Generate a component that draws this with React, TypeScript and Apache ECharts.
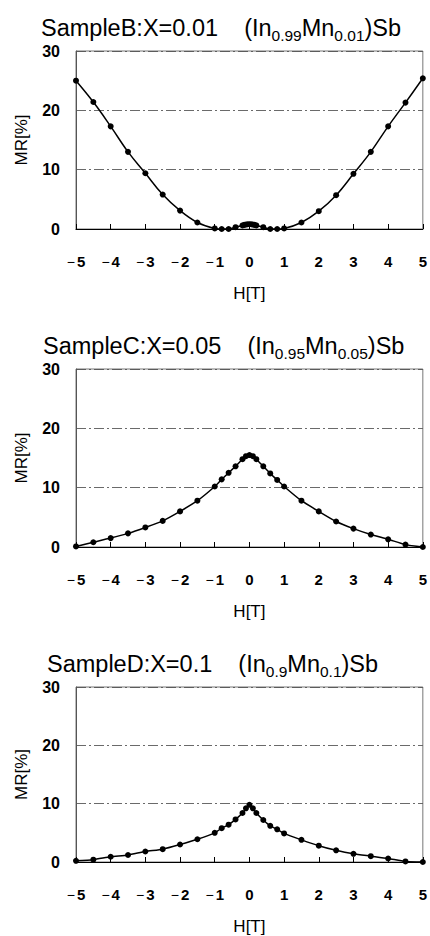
import React, { useEffect, useRef } from "react";
import * as echarts from "echarts";

const hB = [-5, -4.5, -4, -3.5, -3, -2.5, -2, -1.5, -1, -0.8, -0.6, -0.4, -0.2, -0.15, -0.1, -0.05, 0, 0.05, 0.1, 0.15, 0.2, 0.4, 0.6, 0.8, 1, 1.5, 2, 2.5, 3, 3.5, 4, 4.5, 5];
const mrB = [25.0, 21.4, 17.3, 13.0, 9.4, 5.8, 3.1, 1.1, 0.1, 0.0, 0.0, 0.3, 0.6, 0.7, 0.75, 0.8, 0.8, 0.8, 0.75, 0.7, 0.6, 0.3, 0.0, 0.0, 0.1, 1.1, 3.0, 5.7, 9.3, 13.0, 17.3, 21.3, 25.4];

const hC = [-5, -4.5, -4, -3.5, -3, -2.5, -2, -1.5, -1, -0.8, -0.6, -0.4, -0.2, -0.1, 0, 0.1, 0.2, 0.4, 0.6, 0.8, 1, 1.5, 2, 2.5, 3, 3.5, 4, 4.5, 5];
const mrC = [0.1, 0.8, 1.5, 2.3, 3.3, 4.4, 6.0, 7.8, 10.2, 11.4, 12.5, 13.6, 14.8, 15.3, 15.5, 15.3, 14.8, 13.6, 12.4, 11.3, 10.2, 7.8, 6.0, 4.3, 3.1, 2.1, 1.3, 0.4, 0.0];

const hD = [-5, -4.5, -4, -3.5, -3, -2.5, -2, -1.5, -1, -0.8, -0.6, -0.4, -0.2, -0.1, 0, 0.1, 0.2, 0.4, 0.6, 0.8, 1, 1.5, 2, 2.5, 3, 3.5, 4, 4.5, 5];
const mrD = [0.2, 0.4, 0.9, 1.2, 1.8, 2.2, 3.0, 3.9, 5.0, 5.8, 6.4, 7.3, 8.4, 9.2, 9.8, 9.2, 8.4, 7.2, 6.2, 5.6, 4.9, 3.8, 2.8, 2.0, 1.4, 1.0, 0.6, 0.1, 0.0];

const titleParts = [
  { name: "SampleB:X=0.01", a: "0.99", b: "0.01" },
  { name: "SampleC:X=0.05", a: "0.95", b: "0.05" },
  { name: "SampleD:X=0.1", a: "0.9", b: "0.1" },
];
const titleLefts = [41, 43, 47];
const yTicks = [0, 10, 20, 30];
const xName = "H[T]";
const yName = "MR[%]";

const panels = [
  { h: hB, mr: mrB, smooth: 0.4 },
  { h: hC, mr: mrC, smooth: 0.2 },
  { h: hD, mr: mrD, smooth: 0.2 },
];

const FONT = "Liberation Sans, Arial, sans-serif";
const TICKFONT = "Liberation Sans Narrow, Liberation Sans, Arial, sans-serif";

export default function App() {
  const ref = useRef<HTMLDivElement>(null);
  useEffect(() => {
    if (!ref.current) return;
    const chart = echarts.init(ref.current, undefined, { renderer: "svg" });
    const tops = [51, 369, 687];
    const titles = titleParts.map((t, i) => ({
      left: titleLefts[i],
      top: tops[i] - 38,
      padding: 0,
      text: `{m|${t.name}    (In}{s|${t.a}}{m|Mn}{s|${t.b}}{m|)Sb}`,
      textStyle: {
        fontWeight: "normal",
        rich: {
          m: { fontSize: 23.5, fontFamily: FONT, fontWeight: "normal", color: "#000", lineHeight: 30, verticalAlign: "middle" },
          s: { fontSize: 15.5, fontFamily: FONT, fontWeight: "normal", color: "#000", lineHeight: 30, verticalAlign: "bottom" },
        },
      },
    }));
    const grids = tops.map((t) => ({
      left: 76,
      right: 5,
      top: t,
      height: 178,
      show: true,
      borderColor: "#777",
      borderWidth: 1,
      backgroundColor: "transparent",
    }));
    const xAxes = tops.map((_, i) => ({
      type: "value",
      gridIndex: i,
      min: -5,
      max: 5,
      interval: 1,
      name: xName,
      nameLocation: "middle",
      nameGap: 56,
      nameTextStyle: { fontSize: 17, fontFamily: FONT, color: "#000" },
      axisLine: { show: true, onZero: false, lineStyle: { color: "#000", width: 1.2 } },
      axisTick: { show: true, inside: true, length: 5, lineStyle: { color: "#000" } },
      axisLabel: {
        fontSize: 15,
        fontFamily: TICKFONT,
        fontWeight: "bold",
        color: "#000",
        margin: 25,
        formatter: (v: number) => (v < 0 ? `{mn|−}{d|${Math.abs(v)}}` : `{d|${v}}`),
        rich: {
          mn: { fontSize: 14, fontFamily: FONT, fontWeight: "normal", color: "#000", padding: [0, 2, 0, 0] },
          d: { fontSize: 15, fontFamily: TICKFONT, fontWeight: "bold", color: "#000" },
        },
      },
      splitLine: { show: false },
    }));
    const yAxes = tops.map((_, i) => ({
      type: "value",
      gridIndex: i,
      min: yTicks[0],
      max: yTicks[yTicks.length - 1],
      interval: 10,
      name: yName,
      nameLocation: "middle",
      nameGap: 46,
      nameRotate: 90,
      nameTextStyle: { fontSize: 17, fontFamily: FONT, color: "#000" },
      axisLine: { show: true, onZero: false, lineStyle: { color: "#555", width: 1 } },
      axisTick: { show: false },
      axisLabel: { fontSize: 16, fontFamily: TICKFONT, fontWeight: "bold", color: "#000", margin: 16 },
      splitLine: { show: true, lineStyle: { color: "#444", width: 0.8, type: [10, 3, 2, 3] } },
    }));
    const series = panels.map((p, i) => ({
      type: "line",
      xAxisIndex: i,
      yAxisIndex: i,
      data: p.h.map((h, j) => [h, p.mr[j]]),
      smooth: p.smooth,
      symbol: "circle",
      symbolSize: 6,
      itemStyle: { color: "#000" },
      lineStyle: { color: "#000", width: 1.5 },
    }));
    chart.setOption({
      animation: false,
      backgroundColor: "#fff",
      title: titles,
      grid: grids,
      xAxis: xAxes,
      yAxis: yAxes,
      series,
    });
    return () => chart.dispose();
  }, []);
  return (
    <div
      ref={ref}
      style={{ position: "absolute", left: 0, top: 0, width: 430, height: 936 }}
    />
  );
}
